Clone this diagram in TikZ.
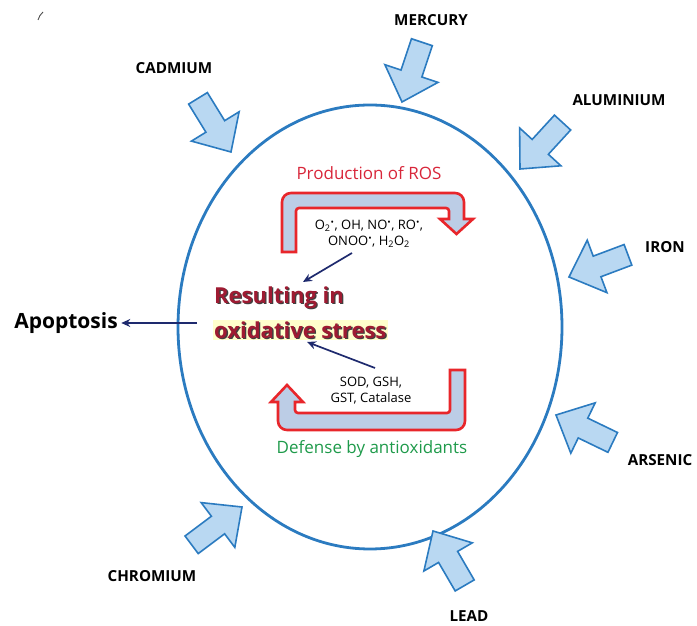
\documentclass[tikz,border=0pt]{standalone}
\usepackage{fontspec}
\setmainfont{Open Sans}
\usetikzlibrary{arrows.meta}

\definecolor{ringblue}{HTML}{2B7BC0}
\definecolor{metalfill}{HTML}{B9D8F2}
\definecolor{uturnred}{HTML}{E8262B}
\definecolor{uturnfill}{HTML}{BCCDE6}
\definecolor{stressred}{HTML}{9E1B32}
\definecolor{rosred}{HTML}{D8263A}
\definecolor{defgreen}{HTML}{1E9A4A}
\definecolor{navy}{HTML}{1E2A6E}
\definecolor{highlight}{HTML}{FFFFCC}

\begin{document}
\begin{tikzpicture}[x=1pt, y=1pt,
    metal/.style={font=\bfseries\fontsize{15.2}{17}\selectfont},
    inflow/.style={draw=ringblue, fill=metalfill, line width=1.6pt, line join=miter},
    pics/metalarrow/.style={code={
        \draw[inflow] (0,0) -- (-30,28) -- (-30,11) -- (-63,11) -- (-63,-11) -- (-30,-11) -- (-30,-28) -- cycle;}},
    uturn/.style={draw=uturnred, fill=uturnfill, line width=2.6pt, line join=miter},
    navyarrow/.style={-{Stealth[length=9pt,width=8pt]}, draw=navy, line width=1.7pt},
    small/.style={font=\fontsize{13}{16}\selectfont, align=center},
    stress/.style={font=\bfseries\fontsize{22}{24}\selectfont, anchor=west, inner sep=1.5pt},
]
    \useasboundingbox (0,0) rectangle (697,626);

    % stray mark
    \draw[black!70, line width=0.9pt] (38,606) to[bend left=15] (43,614);

    % cell
    \draw[ringblue, line width=2.8pt] (370,299) ellipse [x radius=192, y radius=222];

    % metals
    \pic[rotate=251.6] at (402,524) {metalarrow};
    \pic[rotate=-58.4] at (231,474) {metalarrow};
    \pic[rotate=227.5] at (520,457) {metalarrow};
    \pic[rotate=200.6] at (569,349) {metalarrow};
    \pic[rotate=154.2] at (556,211) {metalarrow};
    \pic[rotate=120.2] at (433,95) {metalarrow};
    \pic[rotate=36.9] at (242,119) {metalarrow};

    \node[metal] (mercury) at (431,606) {MERCURY};
    \node[metal] (cadmium) at (174,558) {CADMIUM};
    \node[metal] (aluminium) at (619,526) {ALUMINIUM};
    \node[metal] (iron) at (665,379) {IRON};
    \node[metal] (arsenic) at (660,166) {ARSENIC};
    \node[metal] (lead) at (469,10) {LEAD};
    \node[metal] (chromium) at (152,50) {CHROMIUM};

    % production of ROS
    \node[text=rosred, font=\fontsize{17}{19}\selectfont] (prodtitle) at (369,453) {Production of ROS};
    \draw[uturn] (282,374) [rounded corners=9pt] -- (282,433) -- (464,433) [sharp corners] -- (464,407)
        -- (473,407) -- (456.5,392) -- (440,407) -- (449,407) [rounded corners=3pt] -- (449,418) -- (296,418)
        [sharp corners] -- (296,374) -- cycle;
    \node[small] (ros) at (369,392) {O\textsubscript{2}\textsuperscript{\textbullet}, OH, NO\textsuperscript{\textbullet}, RO\textsuperscript{\textbullet},\\ ONOO\textsuperscript{\textbullet}, H\textsubscript{2}O\textsubscript{2}};
    \coordinate (rosfoot) at (352,373);

    % resulting in oxidative stress
    \node[stress, text=black!75] at (213.8,327.2) {Resulting in};
    \node[stress, text=stressred] (result) at (212.5,328) {Resulting in};
    \node[stress, fill=highlight, text=highlight] (hl) at (212.5,296) {oxidative stress};
    \node[stress, text=black!75] at (213.8,295.2) {oxidative stress};
    \node[stress, text=stressred] (oxid) at (212.5,296) {oxidative stress};
    \coordinate (resulttop) at (303,344);
    \coordinate (resultbot) at (307,284);

    % defense by antioxidants
    \draw[uturn] (465,256) [rounded corners=9pt] -- (465,196) -- (278,196) [sharp corners] -- (278,224)
        -- (271,224) -- (287,241) -- (303,224) -- (295,224) [rounded corners=3pt] -- (295,213) -- (450,213)
        [sharp corners] -- (450,256) -- cycle;
    \node[small] (enzymes) at (371,235) {SOD, GSH,\\ GST, Catalase};
    \coordinate (enzhead) at (375,258);
    \node[text=defgreen, font=\fontsize{17}{19}\selectfont] (deftitle) at (372,177) {Defense by antioxidants};

    % apoptosis
    \node[font=\bfseries\fontsize{21}{23}\selectfont] (apoptosis) at (66,303) {Apoptosis};
    \coordinate (apstart) at (197,303);

    \draw[navyarrow] (rosfoot) -- (resulttop);
    \draw[navyarrow] (enzhead) -- (resultbot);
    \draw[navyarrow] (apstart) -- (apoptosis.east);
\end{tikzpicture}
\end{document}
